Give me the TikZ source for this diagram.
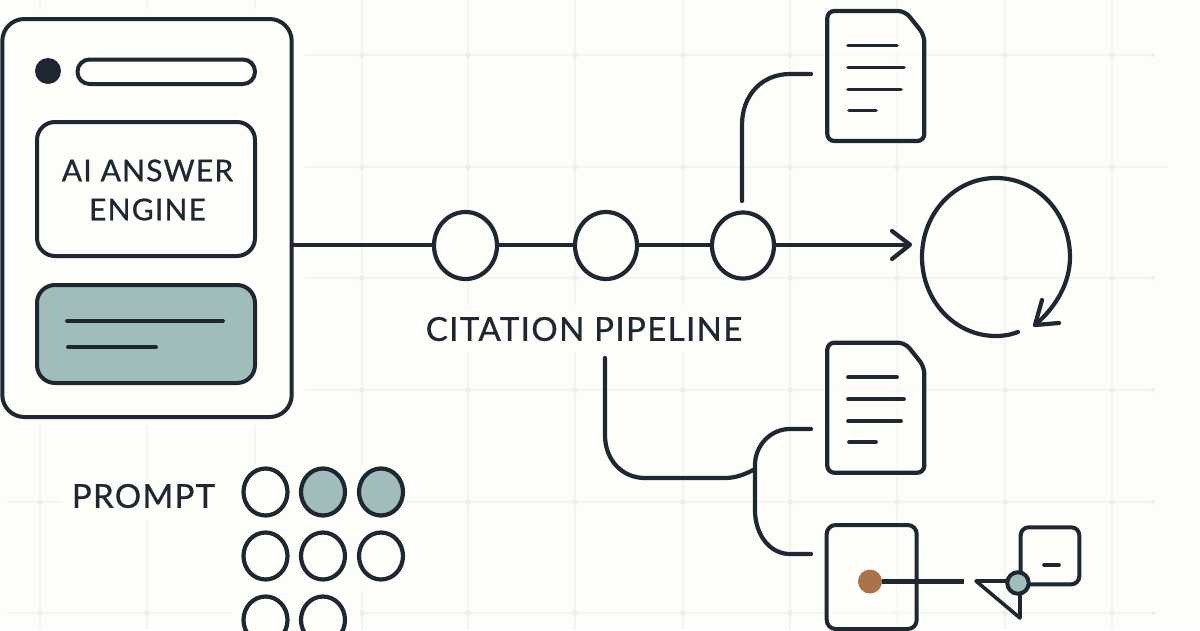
\documentclass[tikz,border=0pt]{standalone}
\usepackage{fontspec}
\setmainfont{Lato}
\usetikzlibrary{shapes.geometric,arrows.meta}
\definecolor{ink}{HTML}{1F2733}
\definecolor{paper}{HTML}{FDFDFA}
\definecolor{teal}{HTML}{A0BDBC}
\definecolor{rust}{HTML}{A9744A}
\definecolor{gridc}{HTML}{F4F4F1}
\definecolor{gridd}{HTML}{EEEFED}
\tikzset{
  line/.style={draw=ink,line width=4.2pt,line cap=round,line join=round},
  wire/.style={line,fill=none},
  thin line/.style={draw=ink,line width=3.7pt,line cap=round},
  box/.style={rectangle,draw=ink,line width=4pt,inner sep=0pt,outer sep=0pt,anchor=north west},
  ring/.style={ellipse,draw=ink,line width=4.2pt,inner sep=0pt,outer sep=0pt,fill=paper},
  halo/.style={fill=paper,draw=none},
  label/.style={text=ink,inner sep=0pt,align=center},
  gridline/.style={draw=gridc,line width=1.4pt},
}
\newcommand{\boxat}[6]{\node[box,#6,minimum width=#3pt,minimum height=#4pt,rounded corners=#5pt] (#1) at (#2) {};}
\newcommand{\docshape}[1]{%
  \draw[line,fill=paper,fill opacity=.7,rounded corners=7pt] (827.3,#1) -- (905,#1) -- (924.3,#1+24) -- (924.3,#1+130) -- (827.3,#1+130) -- cycle;
  \draw[thin line] (848,#1+34.5) -- (897,#1+34.5);
  \draw[thin line] (848,#1+56.5) -- (904,#1+56.5);
  \draw[thin line] (848,#1+78.5) -- (901,#1+78.5);
  \draw[thin line] (849,#1+99.5) -- (876,#1+99.5);
}
\begin{document}
\begin{tikzpicture}[x=1pt,y=-1pt]
\useasboundingbox (0,0) rectangle (1200,630);
\fill[paper] (0,0) rectangle (1200,630);
% grid
\foreach \gx in {40,147,255,362,468,575,683,790,897,1005,1112}
  \draw[gridline] (\gx,0) -- (\gx,630);
\foreach \gy in {55,167,278,390,502,613}
  \draw[gridline] (7,\gy) -- (1153,\gy);
\foreach \gx in {40,147,255,362,468,575,683,790,897,1005,1112}
  \foreach \gy in {55,167,278,390,502,613}
    \fill[gridd] (\gx,\gy) circle (3);
\foreach \gy in {55,278,390,502,613}
  \fill[gridd] (1153,\gy) circle (2);
\draw[gridline] (1153,167) -- (1168,167);
% halos
\fill[halo] (0,9) rectangle (305,425);
\fill[halo] (62,480) rectangle (232,520);
\fill[halo] (232,465) rectangle (405,590);
\fill[halo] (232,590) rectangle (360,630);
\fill[halo] (415,305) rectangle (752,352);
% panel
\boxat{panel}{2.3,19}{289.4}{398}{22}{fill=paper}
\node[circle,fill=ink,minimum size=26pt,inner sep=0pt] (dot) at (48,71) {};
\boxat{pill}{77.5,59.5}{177.5}{24.5}{12}{}
\boxat{engine}{37,122}{218}{134}{18}{}
\node[label,font=\fontsize{30}{39}\selectfont\addfontfeatures{LetterSpace=4,FakeBold=0.8}] (enginetext) at (147.5,190) {AI ANSWER\\ENGINE};
\boxat{reply}{37,285}{218}{98}{18}{fill=teal}
\coordinate (r1a) at (67,321); \coordinate (r1b) at (223,321);
\coordinate (r2a) at (68,347); \coordinate (r2b) at (156,347);
\draw[thin line] (r1a) -- (r1b);
\draw[thin line] (r2a) -- (r2b);
% pipeline
\node[ring,minimum width=63pt,minimum height=67pt] (c1) at (465.5,245.5) {};
\node[ring,minimum width=62pt,minimum height=67pt] (c2) at (606,245.5) {};
\node[ring,minimum width=62pt,minimum height=66pt] (c3) at (743,245.5) {};
\coordinate (main0) at (292,244.7);
\coordinate (tip) at (910,244.7);
\draw[line,line cap=butt] (main0) -- (main0-|c1.west);
\draw[line,line cap=butt] (main0-|c1.east) -- (main0-|c2.west);
\draw[line,line cap=butt] (main0-|c2.east) -- (main0-|c3.west);
\draw[line,line cap=butt] (main0-|c3.east) -- (tip);
\draw[line] (892,231) -- (tip) -- (892,259);
\node[label,font=\fontsize{33}{38}\selectfont\addfontfeatures{LetterSpace=4.2,FakeBold=0.8}] (pipe) at (584,329) {CITATION PIPELINE};
\node[label,font=\fontsize{33}{38}\selectfont\addfontfeatures{LetterSpace=4,FakeBold=0.8}] (prompt) at (143.5,496) {PROMPT};
% documents
\docshape{11}
\docshape{342.7}
% top connector
\coordinate (d1in) at (811,74);
\draw[wire] (742,201) -- (742,125) .. controls (742,95) and (762,74) .. (790,74) -- (d1in);
% loop
\coordinate (lstart) at (1018,332);
\coordinate (ltip) at (1035,325);
\draw[wire] (lstart) .. controls (1010,335) and (1003,336) .. (996,336)
   .. controls (955,336) and (922,301) .. (922,257)
   .. controls (922,213) and (955,178) .. (996,178)
   .. controls (1037,178) and (1070,213) .. (1070,257)
   .. controls (1070,283) and (1056,307) .. (ltip);
\draw[line] (1042,300) -- (ltip) -- (1059,323);
% lower connectors
\coordinate (d2in) at (811,429);
\coordinate (sqin) at (811,554);
\coordinate (start) at (605,358);
\draw[wire] (start) -- (605,435) .. controls (605,460) and (622,478) .. (645,478)
  -- (725,478) .. controls (736,478) and (746,474) .. (755,469);
\draw[wire] (d2in) -- (790,429) .. controls (770,429) and (755,446) .. (755,465)
  -- (755,510) .. controls (755,535) and (770,554) .. (790,554) -- (sqin);
% prompt grid
\foreach \nm/\cx/\cy/\fc in {a/265.5/492/paper,b/323/492/teal,c/381/492/teal,d/265.5/556/paper,e/323/556/paper,f/381/556/paper,g/265.5/620/paper,h/323/620/paper}
  \node[ring,fill=\fc,minimum width=44pt,minimum height=47pt] (p\nm) at (\cx,\cy) {};
% source square
\boxat{square}{826.7,525}{90}{104}{9}{fill=paper,fill opacity=.6,text opacity=1}
\node[circle,fill=rust,minimum size=24pt,inner sep=0pt] (orange) at (870,581.5) {};
\coordinate (oend) at (964,581.5);
\draw[line,line cap=butt] (orange) -- (oend);
% small box & triangle
\boxat{small}{1020.7,527.3}{58.6}{57}{8}{}
\coordinate (t1) at (976,581); \coordinate (t2) at (1020,581); \coordinate (t3) at (1020,618);
\draw[line,line width=3.6pt] (t1) -- (t2) -- (t3) -- cycle;
\coordinate (sd1) at (1044,565); \coordinate (sd2) at (1059,565);
\draw[thin line] (sd1) -- (sd2);
\node[circle,draw=ink,line width=4pt,fill=teal,minimum size=21.5pt,inner sep=0pt,outer sep=0pt] (node) at (1018,583) {};
\end{tikzpicture}
\end{document}
